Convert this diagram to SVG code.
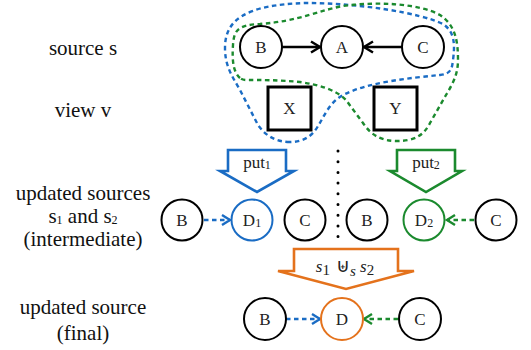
<svg xmlns="http://www.w3.org/2000/svg" width="531" height="350" viewBox="0 0 531 350" font-family="Liberation Serif, Times New Roman, Tinos, DejaVu Serif, serif">
<defs>
<style>
.lbl{font-family:"Liberation Serif","Times New Roman",Tinos,"DejaVu Serif",serif;font-size:21px;fill:#111;text-anchor:middle}
.nt{font-family:"Liberation Serif","Times New Roman",Tinos,"DejaVu Serif",serif;font-size:17px;fill:#222;text-anchor:middle}
.nd{fill:#fff;stroke:#000;stroke-width:2}
.bx{fill:#fff;stroke:#000;stroke-width:3}
.blue{stroke:#1a6cc4}
.green{stroke:#1b8a2e}
.orange{stroke:#e4721c}
.dash{fill:none;stroke-width:2.4;stroke-dasharray:4.5 3.5}
.big{fill:#fff;stroke-width:2.6;stroke-linejoin:miter}
.sub{font-size:12px}
</style>
<marker id="ak" markerUnits="userSpaceOnUse" markerWidth="14" markerHeight="14" refX="11" refY="7" orient="auto"><path d="M2,1.5 L11,7 L2,12.5" fill="none" stroke="#000" stroke-width="2.5"/></marker>
<marker id="ab" markerUnits="userSpaceOnUse" markerWidth="14" markerHeight="14" refX="11" refY="7" orient="auto"><path d="M3,2 L11,7 L3,12" fill="none" stroke="#1a6cc4" stroke-width="2.4"/></marker>
<marker id="ag" markerUnits="userSpaceOnUse" markerWidth="14" markerHeight="14" refX="11" refY="7" orient="auto"><path d="M3,2 L11,7 L3,12" fill="none" stroke="#1b8a2e" stroke-width="2.4"/></marker>
</defs>
<rect width="531" height="350" fill="#fff"/>

<g id="labels">
<text class="lbl" x="83" y="55">source s</text>
<text class="lbl" x="83" y="117">view v</text>
<text class="lbl" x="83" y="200">updated sources</text>
<text class="lbl" x="83" y="223">s<tspan class="sub" dy="1">1</tspan><tspan dy="-1"> and s</tspan><tspan class="sub" dy="1">2</tspan></text>
<text class="lbl" x="83" y="246">(intermediate)</text>
<text class="lbl" x="83" y="314">updated source</text>
<text class="lbl" x="83" y="340">(final)</text>
</g>

<g id="regions">
<path class="dash blue" d="M290,142 C275,142 265,135 258,125 L240,90 C232,76 225,66 225,48 C225,20 245,5 305,3 C360,3 420,13 443,24 C455,32 455,45 453,60 C452,70 450,74 440,75 C410,78 370,82 345,94 C330,101 325,115 318,126 C312,137 302,142 290,142 Z"/>
<path class="dash green" d="M240,78 C233,72 232,60 233,45 C234,30 238,25 260,24 C300,21 320,10 343,6 C380,1 420,4 440,15 C455,25 458,40 458,60 C458,75 452,85 446,95 L430,123 C424,135 415,141 397,141 C381,141 371,135 363,123 L346,100 C336,90 320,85 300,82 C280,80 260,80 247,80 C243,80 241,79 240,78 Z"/>
</g>

<g id="connectors">
<line x1="282" y1="47" x2="320" y2="47" stroke="#000" stroke-width="2.5" marker-end="url(#ak)"/>
<line x1="402" y1="47" x2="364" y2="47" stroke="#000" stroke-width="2.5" marker-end="url(#ak)"/>
<line class="blue" x1="204" y1="220" x2="230" y2="220" stroke-width="2.4" stroke-dasharray="4.5 3.5" marker-end="url(#ab)"/>
<line class="green" x1="474" y1="220" x2="447" y2="220" stroke-width="2.4" stroke-dasharray="4.5 3.5" marker-end="url(#ag)"/>
<line class="blue" x1="286" y1="319" x2="320" y2="319" stroke-width="2.4" stroke-dasharray="4.5 3.5" marker-end="url(#ab)"/>
<line class="green" x1="398" y1="319" x2="364" y2="319" stroke-width="2.4" stroke-dasharray="4.5 3.5" marker-end="url(#ag)"/>
<line x1="338" y1="151" x2="338" y2="238" stroke="#000" stroke-width="3" stroke-linecap="round" stroke-dasharray="0 10.7"/>
</g>

<g id="put1">
<polygon class="big blue" points="228,150 286,150 286,171 294,171 257,192 220,171 228,171"/>
<text class="nt" x="257" y="168" font-size="15">put<tspan class="sub" font-size="10" dy="1">1</tspan></text>
</g>
<g id="put2">
<polygon class="big green" points="397,150 455,150 455,171 462,171 426,192 390,171 397,171"/>
<text class="nt" x="426" y="168" font-size="15">put<tspan class="sub" font-size="10" dy="1">2</tspan></text>
</g>
<g id="merge">
<polygon class="big orange" points="294,249 398,249 398,271 414,271 346,289 278,271 294,271"/>
<text class="nt" x="345" y="272" font-size="24"><tspan font-style="italic">s</tspan><tspan font-size="15" dy="3">1</tspan><tspan dy="-3" font-family="DejaVu Sans, sans-serif" font-size="19"> ⊎</tspan><tspan font-style="italic" font-size="15" dy="4">s</tspan><tspan dy="-4" font-style="italic"> s</tspan><tspan font-size="15" dy="3">2</tspan></text>
</g>

<g id="nB"><circle class="nd" cx="261" cy="47" r="21"/><text class="nt" x="261" y="53">B</text></g>
<g id="nA"><circle class="nd" cx="342" cy="47" r="21"/><text class="nt" x="342" y="53">A</text></g>
<g id="nC"><circle class="nd" cx="423" cy="47" r="21"/><text class="nt" x="423" y="53">C</text></g>
<g id="nX"><rect class="bx" x="268" y="87" width="43" height="43"/><text class="nt" x="289.5" y="114">X</text></g>
<g id="nY"><rect class="bx" x="374" y="87" width="43" height="43"/><text class="nt" x="395.5" y="114">Y</text></g>

<g id="nB1"><circle class="nd" cx="182" cy="220" r="20.5"/><text class="nt" x="182" y="226">B</text></g>
<g id="nD1"><circle class="nd blue" cx="252" cy="220" r="20.5"/><text class="nt" x="252" y="226">D<tspan class="sub" dy="1">1</tspan></text></g>
<g id="nC1"><circle class="nd" cx="305" cy="220" r="20.5"/><text class="nt" x="305" y="226">C</text></g>
<g id="nB2"><circle class="nd" cx="367" cy="220" r="20.5"/><text class="nt" x="367" y="226">B</text></g>
<g id="nD2"><circle class="nd green" cx="424" cy="220" r="20.5"/><text class="nt" x="424" y="226">D<tspan class="sub" dy="1">2</tspan></text></g>
<g id="nC2"><circle class="nd" cx="496" cy="220" r="20.5"/><text class="nt" x="496" y="226">C</text></g>

<g id="nB3"><circle class="nd" cx="265" cy="319" r="21"/><text class="nt" x="265" y="325">B</text></g>
<g id="nD"><circle class="nd orange" cx="342" cy="319" r="21"/><text class="nt" x="342" y="325">D</text></g>
<g id="nC3"><circle class="nd" cx="420" cy="319" r="21"/><text class="nt" x="420" y="325">C</text></g>
</svg>
